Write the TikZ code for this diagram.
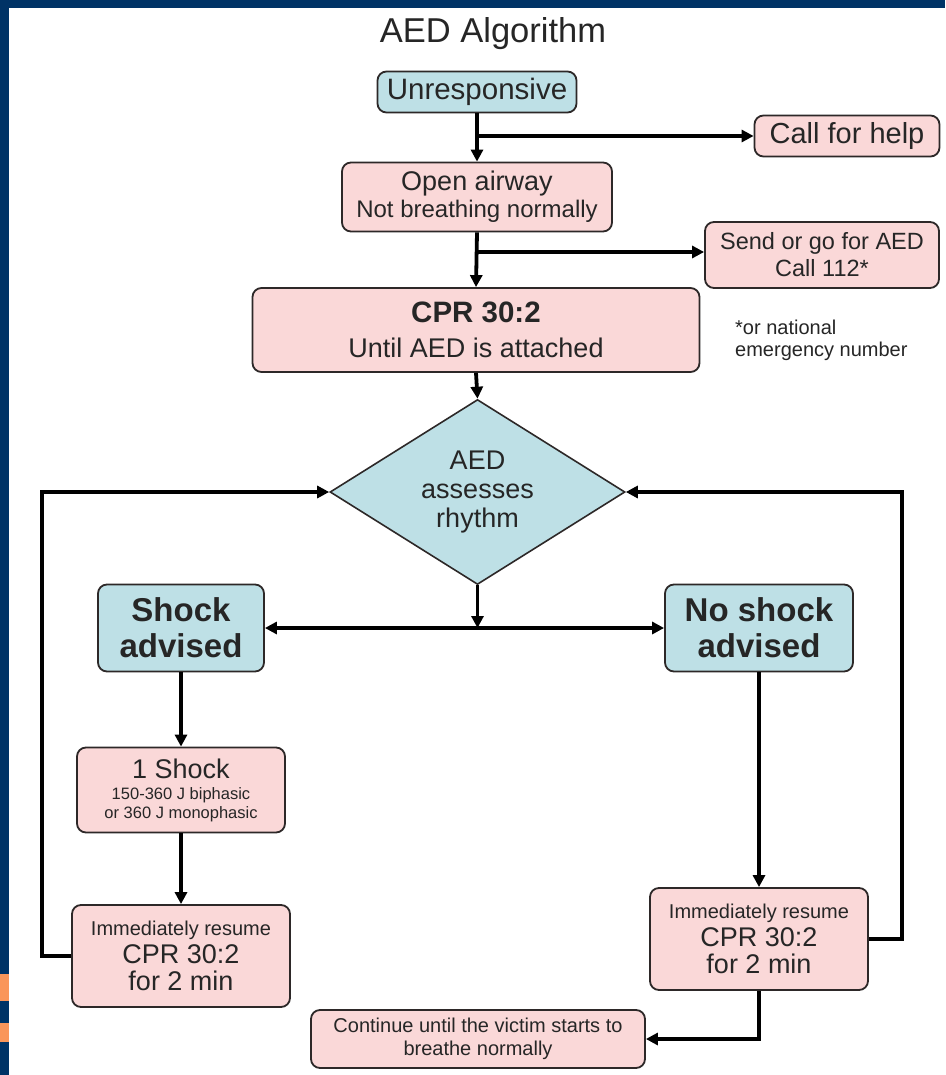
\documentclass[tikz,border=0pt]{standalone}
\usepackage{fontspec}
\setmainfont{Liberation Sans}
\usetikzlibrary{arrows.meta,positioning,calc,shapes.geometric}
\definecolor{frameblue}{RGB}{0,51,102}
\definecolor{slideorange}{RGB}{250,150,90}
\definecolor{boxblue}{RGB}{190,224,230}
\definecolor{boxpink}{RGB}{250,216,216}
\definecolor{edgegray}{RGB}{45,40,40}
\tikzset{
    stepblue/.style={
        rounded corners=9pt,
        draw=edgegray,
        line width=1.8pt,
        fill=boxblue,
        inner sep=0pt,
        align=center,
        text=black!85
    },
    steppink/.style={stepblue, fill=boxpink},
    flow/.style={line width=3.8pt, -{Triangle[length=12pt,width=12pt]}},
    plainline/.style={line width=3.8pt}
}

\begin{document}
\begin{tikzpicture}[x=1pt, y=-1pt]
    \useasboundingbox (0,0) rectangle (945,1075);
    \fill[white] (0,0) rectangle (945,1075);
    \fill[frameblue] (0,0) rectangle (945,8);
    \fill[frameblue] (0,0) rectangle (9,1075);
    \fill[slideorange] (0,974) rectangle (9,1001);
    \fill[slideorange] (0,1023) rectangle (9,1042);

    \node[text=black!85] (title) at (493,34) {\fontsize{34.5}{36}\selectfont AED Algorithm};

    \node[stepblue, minimum width=199, minimum height=41] (unresp) at (477,92)
        {\fontsize{29.5}{30}\selectfont Unresponsive};
    \node[steppink, minimum width=185, minimum height=41] (help) at (847,136)
        {\fontsize{29}{30}\selectfont Call for help};
    \node[steppink, minimum width=270, minimum height=69, font=\fontsize{24}{27}\selectfont] (airway) at (477,197)
        {\fontsize{27}{27}\selectfont Open airway\\
         \fontsize{24}{27}\selectfont Not breathing normally};
    \node[steppink, minimum width=234, minimum height=66, font=\fontsize{23.5}{27}\selectfont] (sendaed) at (822,255)
        {\fontsize{23.5}{27}\selectfont Send or go for AED\\
         \fontsize{23.5}{27}\selectfont Call 112*};
    \node[steppink, minimum width=447, minimum height=84, font=\fontsize{27}{35}\selectfont] (cpr) at (476,330)
        {\fontsize{29.5}{35}\selectfont\bfseries CPR 30:2\\
         \fontsize{27}{35}\selectfont Until AED is attached};
    \node[anchor=north west, align=left, inner sep=0pt, text=black!85, font=\fontsize{20}{22}\selectfont] (note) at (735,320)
        {\fontsize{20}{22}\selectfont *or national\\
         \fontsize{20}{22}\selectfont emergency number};

    \node[shape=diamond, aspect=1.6, draw=edgegray, line width=1.6pt, fill=boxblue,
        minimum width=295, minimum height=185, inner sep=0pt, align=center,
        text=black!85, font=\fontsize{27}{29}\selectfont] (assess) at (477.5,492)
        {\fontsize{27}{29}\selectfont AED\\
         \fontsize{27}{29}\selectfont assesses\\
         \fontsize{27}{29}\selectfont rhythm};

    \node[stepblue, minimum width=166, minimum height=87, font=\fontsize{33}{36}\selectfont] (shock) at (181,628)
        {\fontsize{33}{36}\selectfont\bfseries Shock\\
         \fontsize{33}{36}\selectfont\bfseries advised};
    \node[stepblue, minimum width=188, minimum height=87, font=\fontsize{33}{36}\selectfont] (noshock) at (759,628)
        {\fontsize{33}{36}\selectfont\bfseries No shock\\
         \fontsize{33}{36}\selectfont\bfseries advised};

    \node[steppink, minimum width=208, minimum height=85, font=\fontsize{16.5}{18.5}\selectfont] (oneshock) at (181,790)
        {\fontsize{27}{27}\selectfont 1 Shock\\[3pt]
         \fontsize{16.5}{18.5}\selectfont 150-360 J biphasic\\
         \fontsize{16.5}{18.5}\selectfont or 360 J monophasic};
    \node[steppink, minimum width=218, minimum height=102, font=\fontsize{27}{27.5}\selectfont] (resumeL) at (181,956)
        {\fontsize{20}{27.5}\selectfont Immediately resume\\
         \fontsize{27}{27.5}\selectfont CPR 30:2\\
         \fontsize{27}{27.5}\selectfont for 2 min};
    \node[steppink, minimum width=218, minimum height=102, font=\fontsize{27}{27.5}\selectfont] (resumeR) at (759,939)
        {\fontsize{20}{27.5}\selectfont Immediately resume\\
         \fontsize{27}{27.5}\selectfont CPR 30:2\\
         \fontsize{27}{27.5}\selectfont for 2 min};
    \node[steppink, minimum width=334, minimum height=58, font=\fontsize{20}{23}\selectfont] (cont) at (478,1039)
        {\fontsize{20}{23}\selectfont Continue until the victim starts to\\
         \fontsize{20}{23}\selectfont breathe normally};

    \draw[flow] (unresp.south) -- (airway.north);
    \draw[flow] (unresp.south |- help.west) -- (help.west);
    \draw[flow] (airway.south) -- (cpr.north);
    \draw[flow] (airway.south |- 0,252) -- (sendaed.west |- 0,252);
    \draw[flow] (cpr.south) -- (assess.north);
    \coordinate (split) at (assess.south |- shock.east);
    \draw[flow] (assess.south) -- (split);
    \draw[plainline, {Triangle[length=12pt,width=12pt]}-{Triangle[length=12pt,width=12pt]}]
        (shock.east) -- (noshock.west);
    \draw[flow] (shock.south) -- (oneshock.north);
    \draw[flow] (oneshock.south) -- (resumeL.north);
    \draw[flow] (resumeL.west) -- ++(-29,0) |- (assess.west);
    \draw[flow] (noshock.south) -- (resumeR.north);
    \draw[flow] (resumeR.east) -- ++(33,0) |- (assess.east);
    \draw[flow] (resumeR.south) |- (cont.east);
\end{tikzpicture}
\end{document}
